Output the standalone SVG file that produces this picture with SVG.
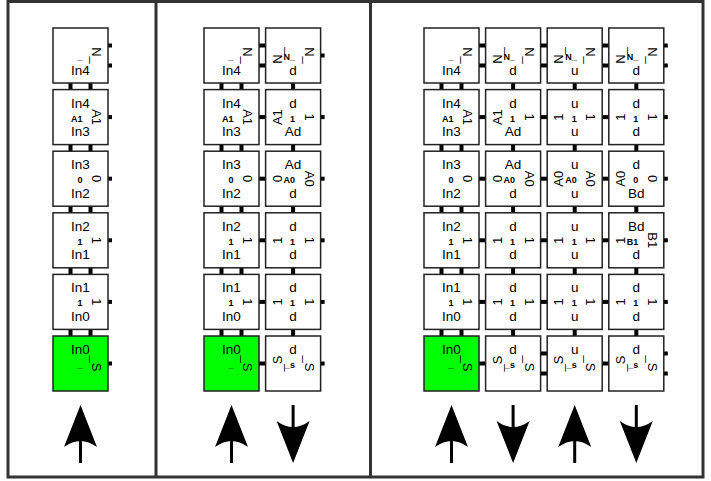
<svg xmlns="http://www.w3.org/2000/svg" xmlns:xlink="http://www.w3.org/1999/xlink" width="711" height="481" viewBox="0 0 711 481">
<style>
.t{fill:#fff;stroke:#222;stroke-width:1.5}
.g{fill:#00ff00;stroke:#222;stroke-width:1.5}
text{font-family:"Liberation Sans",Arial,sans-serif;fill:#000}
.l{font-size:13.5px;text-anchor:middle}
.s{font-size:13px;text-anchor:middle}
.c{font-size:9px;font-weight:bold;text-anchor:end}
.st{fill:#000}
.fr{fill:none;stroke:#333;stroke-width:3}
</style>
<defs>
<g id="arr"><path d="M0 0 L16.5 42 Q0 30 -16.5 42 Z"/><rect x="-1.5" y="34" width="3" height="24"/></g>
</defs>
<g id="frame">
<rect class="fr" x="8" y="1.5" width="695" height="475.5"/>
<line class="fr" x1="156" y1="1.5" x2="156" y2="477"/>
<line class="fr" x1="370.5" y1="1.5" x2="370.5" y2="477"/>
</g>
<g id="connectors" class="st">
<!-- left panel -->
<rect x="68.5" y="82" width="4" height="8.6"/><rect x="88.5" y="82" width="4" height="8.6"/>
<rect x="68.5" y="143.6" width="4" height="8.6"/><rect x="88.5" y="143.6" width="4" height="8.6"/>
<rect x="68.5" y="205.2" width="4" height="8.6"/><rect x="88.5" y="205.2" width="4" height="8.6"/>
<rect x="68.5" y="266.8" width="4" height="8.6"/><rect x="88.5" y="266.8" width="4" height="8.6"/>
<rect x="68.5" y="328.4" width="4" height="8.6"/><rect x="88.5" y="328.4" width="4" height="8.6"/>
<rect x="107.5" y="43.5" width="4.5" height="4"/><rect x="107.5" y="63.5" width="4.5" height="4"/>
<rect x="107.5" y="115.1" width="4.5" height="4"/><rect x="107.5" y="176.7" width="4.5" height="4"/>
<rect x="107.5" y="238.3" width="4.5" height="4"/><rect x="107.5" y="299.9" width="4.5" height="4"/>
<rect x="107.5" y="361.5" width="4.5" height="4"/>
<!-- middle panel -->
<rect x="219.5" y="82" width="4" height="8.6"/><rect x="239.5" y="82" width="4" height="8.6"/>
<rect x="219.5" y="143.6" width="4" height="8.6"/><rect x="239.5" y="143.6" width="4" height="8.6"/>
<rect x="219.5" y="205.2" width="4" height="8.6"/><rect x="239.5" y="205.2" width="4" height="8.6"/>
<rect x="219.5" y="266.8" width="4" height="8.6"/><rect x="239.5" y="266.8" width="4" height="8.6"/>
<rect x="219.5" y="328.4" width="4" height="8.6"/><rect x="239.5" y="328.4" width="4" height="8.6"/>
<rect x="258" y="43.5" width="8.6" height="4"/><rect x="258" y="63.5" width="8.6" height="4"/>
<rect x="258" y="115.1" width="8.6" height="4"/><rect x="258" y="176.7" width="8.6" height="4"/>
<rect x="258" y="238.3" width="8.6" height="4"/><rect x="258" y="299.9" width="8.6" height="4"/>
<rect x="258" y="361.5" width="8.6" height="4"/>
<rect x="291.1" y="82" width="4" height="8.6"/><rect x="291.1" y="143.6" width="4" height="8.6"/>
<rect x="291.1" y="205.2" width="4" height="8.6"/><rect x="291.1" y="266.8" width="4" height="8.6"/>
<rect x="291.1" y="328.4" width="4" height="8.6"/>
<rect x="320.1" y="53.5" width="4.5" height="4"/><rect x="320.1" y="115.1" width="4.5" height="4"/>
<rect x="320.1" y="176.7" width="4.5" height="4"/><rect x="320.1" y="238.3" width="4.5" height="4"/>
<rect x="320.1" y="299.9" width="4.5" height="4"/><rect x="320.1" y="361.5" width="4.5" height="4"/>
<!-- right panel: column A -->
<rect x="439.5" y="82" width="4" height="8.6"/><rect x="459.5" y="82" width="4" height="8.6"/>
<rect x="439.5" y="143.6" width="4" height="8.6"/><rect x="459.5" y="143.6" width="4" height="8.6"/>
<rect x="439.5" y="205.2" width="4" height="8.6"/><rect x="459.5" y="205.2" width="4" height="8.6"/>
<rect x="439.5" y="266.8" width="4" height="8.6"/><rect x="459.5" y="266.8" width="4" height="8.6"/>
<rect x="439.5" y="328.4" width="4" height="8.6"/><rect x="459.5" y="328.4" width="4" height="8.6"/>
<!-- A-B -->
<rect x="478" y="43.5" width="8.6" height="4"/><rect x="478" y="63.5" width="8.6" height="4"/>
<rect x="478" y="115.1" width="8.6" height="4"/><rect x="478" y="176.7" width="8.6" height="4"/>
<rect x="478" y="238.3" width="8.6" height="4"/><rect x="478" y="299.9" width="8.6" height="4"/>
<rect x="478" y="361.5" width="8.6" height="4"/>
<!-- B,C,D verticals -->
<rect x="511.1" y="82" width="4" height="8.6"/><rect x="511.1" y="143.6" width="4" height="8.6"/>
<rect x="511.1" y="205.2" width="4" height="8.6"/><rect x="511.1" y="266.8" width="4" height="8.6"/>
<rect x="511.1" y="328.4" width="4" height="8.6"/>
<rect x="572.7" y="82" width="4" height="8.6"/><rect x="572.7" y="143.6" width="4" height="8.6"/>
<rect x="572.7" y="205.2" width="4" height="8.6"/><rect x="572.7" y="266.8" width="4" height="8.6"/>
<rect x="572.7" y="328.4" width="4" height="8.6"/>
<rect x="634.3" y="82" width="4" height="8.6"/><rect x="634.3" y="143.6" width="4" height="8.6"/>
<rect x="634.3" y="205.2" width="4" height="8.6"/><rect x="634.3" y="266.8" width="4" height="8.6"/>
<rect x="634.3" y="328.4" width="4" height="8.6"/>
<!-- B-C -->
<rect x="539.6" y="43.5" width="8.6" height="4"/><rect x="539.6" y="63.5" width="8.6" height="4"/>
<rect x="539.6" y="115.1" width="8.6" height="4"/><rect x="539.6" y="176.7" width="8.6" height="4"/>
<rect x="539.6" y="238.3" width="8.6" height="4"/><rect x="539.6" y="299.9" width="8.6" height="4"/>
<rect x="539.6" y="351.5" width="8.6" height="4"/><rect x="539.6" y="371.5" width="8.6" height="4"/>
<!-- C-D -->
<rect x="601.2" y="43.5" width="8.6" height="4"/><rect x="601.2" y="63.5" width="8.6" height="4"/>
<rect x="601.2" y="115.1" width="8.6" height="4"/><rect x="601.2" y="176.7" width="8.6" height="4"/>
<rect x="601.2" y="238.3" width="8.6" height="4"/><rect x="601.2" y="299.9" width="8.6" height="4"/>
<rect x="601.2" y="361.5" width="8.6" height="4"/>
<!-- D right -->
<rect x="663.3" y="43.5" width="4.5" height="4"/><rect x="663.3" y="63.5" width="4.5" height="4"/>
<rect x="663.3" y="115.1" width="4.5" height="4"/><rect x="663.3" y="176.7" width="4.5" height="4"/>
<rect x="663.3" y="238.3" width="4.5" height="4"/><rect x="663.3" y="299.9" width="4.5" height="4"/>
<rect x="663.3" y="351.5" width="4.5" height="4"/><rect x="663.3" y="371.5" width="4.5" height="4"/>
</g>

<!-- ===== Left panel ===== -->
<g id="L-r0" transform="translate(53,28)"><rect class="t" width="55" height="55"/><text class="l" x="27.5" y="46.5">In4</text><text class="s" transform="translate(39 27.5) rotate(90)">N_</text><text class="c" x="29.5" y="32">_</text></g>
<g id="L-r1" transform="translate(53,89.6)"><rect class="t" width="55" height="55"/><text class="l" x="27.5" y="18">In4</text><text class="l" x="27.5" y="46.5">In3</text><text class="s" transform="translate(39 27.5) rotate(90)">A1</text><text class="c" x="29.5" y="32">A1</text></g>
<g id="L-r2" transform="translate(53,151.2)"><rect class="t" width="55" height="55"/><text class="l" x="27.5" y="18">In3</text><text class="l" x="27.5" y="46.5">In2</text><text class="s" transform="translate(39 27.5) rotate(90)">0</text><text class="c" x="29.5" y="32">0</text></g>
<g id="L-r3" transform="translate(53,212.8)"><rect class="t" width="55" height="55"/><text class="l" x="27.5" y="18">In2</text><text class="l" x="27.5" y="46.5">In1</text><text class="s" transform="translate(39 27.5) rotate(90)">1</text><text class="c" x="29.5" y="32">1</text></g>
<g id="L-r4" transform="translate(53,274.4)"><rect class="t" width="55" height="55"/><text class="l" x="27.5" y="18">In1</text><text class="l" x="27.5" y="46.5">In0</text><text class="s" transform="translate(39 27.5) rotate(90)">1</text><text class="c" x="29.5" y="32">1</text></g>
<g id="L-r5" transform="translate(53,336)"><rect class="g" width="55" height="55"/><text class="l" x="27.5" y="18">In0</text><text class="s" transform="translate(39 27.5) rotate(90)">_S</text><text class="c" x="29.5" y="32">_</text></g>

<!-- ===== Middle panel, column A ===== -->
<g id="M-A-r0" transform="translate(204,28)"><rect class="t" width="55" height="55"/><text class="l" x="27.5" y="46.5">In4</text><text class="s" transform="translate(39 27.5) rotate(90)">N_</text><text class="c" x="29.5" y="32">_</text></g>
<g id="M-A-r1" transform="translate(204,89.6)"><rect class="t" width="55" height="55"/><text class="l" x="27.5" y="18">In4</text><text class="l" x="27.5" y="46.5">In3</text><text class="s" transform="translate(39 27.5) rotate(90)">A1</text><text class="c" x="29.5" y="32">A1</text></g>
<g id="M-A-r2" transform="translate(204,151.2)"><rect class="t" width="55" height="55"/><text class="l" x="27.5" y="18">In3</text><text class="l" x="27.5" y="46.5">In2</text><text class="s" transform="translate(39 27.5) rotate(90)">0</text><text class="c" x="29.5" y="32">0</text></g>
<g id="M-A-r3" transform="translate(204,212.8)"><rect class="t" width="55" height="55"/><text class="l" x="27.5" y="18">In2</text><text class="l" x="27.5" y="46.5">In1</text><text class="s" transform="translate(39 27.5) rotate(90)">1</text><text class="c" x="29.5" y="32">1</text></g>
<g id="M-A-r4" transform="translate(204,274.4)"><rect class="t" width="55" height="55"/><text class="l" x="27.5" y="18">In1</text><text class="l" x="27.5" y="46.5">In0</text><text class="s" transform="translate(39 27.5) rotate(90)">1</text><text class="c" x="29.5" y="32">1</text></g>
<g id="M-A-r5" transform="translate(204,336)"><rect class="g" width="55" height="55"/><text class="l" x="27.5" y="18">In0</text><text class="s" transform="translate(39 27.5) rotate(90)">_S</text><text class="c" x="29.5" y="32">_</text></g>

<!-- ===== Middle panel, column B ===== -->
<g id="M-B-r0" transform="translate(265.6,28)"><rect class="t" width="55" height="55"/><text class="l" x="27.5" y="46.5">d</text><text class="s" transform="translate(16 27.5) rotate(-90)">N_</text><text class="s" transform="translate(39 27.5) rotate(90)">N_</text><text class="c" x="29.5" y="32">N_</text></g>
<g id="M-B-r1" transform="translate(265.6,89.6)"><rect class="t" width="55" height="55"/><text class="l" x="27.5" y="18">d</text><text class="l" x="27.5" y="46.5">Ad</text><text class="s" transform="translate(16 27.5) rotate(-90)">A1</text><text class="s" transform="translate(39 27.5) rotate(90)">1</text><text class="c" x="29.5" y="32">1</text></g>
<g id="M-B-r2" transform="translate(265.6,151.2)"><rect class="t" width="55" height="55"/><text class="l" x="27.5" y="18">Ad</text><text class="l" x="27.5" y="46.5">d</text><text class="s" transform="translate(16 27.5) rotate(-90)">0</text><text class="s" transform="translate(39 27.5) rotate(90)">A0</text><text class="c" x="29.5" y="32">A0</text></g>
<g id="M-B-r3" transform="translate(265.6,212.8)"><rect class="t" width="55" height="55"/><text class="l" x="27.5" y="18">d</text><text class="l" x="27.5" y="46.5">d</text><text class="s" transform="translate(16 27.5) rotate(-90)">1</text><text class="s" transform="translate(39 27.5) rotate(90)">1</text><text class="c" x="29.5" y="32">1</text></g>
<g id="M-B-r4" transform="translate(265.6,274.4)"><rect class="t" width="55" height="55"/><text class="l" x="27.5" y="18">d</text><text class="l" x="27.5" y="46.5">d</text><text class="s" transform="translate(16 27.5) rotate(-90)">1</text><text class="s" transform="translate(39 27.5) rotate(90)">1</text><text class="c" x="29.5" y="32">1</text></g>
<g id="M-B-r5" transform="translate(265.6,336)"><rect class="t" width="55" height="55"/><text class="l" x="27.5" y="18">d</text><text class="s" transform="translate(16 27.5) rotate(-90)">_S</text><text class="s" transform="translate(39 27.5) rotate(90)">_S</text><text class="c" x="29.5" y="32">_s</text></g>

<!-- ===== Right panel, column A ===== -->
<g id="R-A-r0" transform="translate(424,28)"><rect class="t" width="55" height="55"/><text class="l" x="27.5" y="46.5">In4</text><text class="s" transform="translate(39 27.5) rotate(90)">N_</text><text class="c" x="29.5" y="32">_</text></g>
<g id="R-A-r1" transform="translate(424,89.6)"><rect class="t" width="55" height="55"/><text class="l" x="27.5" y="18">In4</text><text class="l" x="27.5" y="46.5">In3</text><text class="s" transform="translate(39 27.5) rotate(90)">A1</text><text class="c" x="29.5" y="32">A1</text></g>
<g id="R-A-r2" transform="translate(424,151.2)"><rect class="t" width="55" height="55"/><text class="l" x="27.5" y="18">In3</text><text class="l" x="27.5" y="46.5">In2</text><text class="s" transform="translate(39 27.5) rotate(90)">0</text><text class="c" x="29.5" y="32">0</text></g>
<g id="R-A-r3" transform="translate(424,212.8)"><rect class="t" width="55" height="55"/><text class="l" x="27.5" y="18">In2</text><text class="l" x="27.5" y="46.5">In1</text><text class="s" transform="translate(39 27.5) rotate(90)">1</text><text class="c" x="29.5" y="32">1</text></g>
<g id="R-A-r4" transform="translate(424,274.4)"><rect class="t" width="55" height="55"/><text class="l" x="27.5" y="18">In1</text><text class="l" x="27.5" y="46.5">In0</text><text class="s" transform="translate(39 27.5) rotate(90)">1</text><text class="c" x="29.5" y="32">1</text></g>
<g id="R-A-r5" transform="translate(424,336)"><rect class="g" width="55" height="55"/><text class="l" x="27.5" y="18">In0</text><text class="s" transform="translate(39 27.5) rotate(90)">_S</text><text class="c" x="29.5" y="32">_</text></g>

<!-- ===== Right panel, column B ===== -->
<g id="R-B-r0" transform="translate(485.6,28)"><rect class="t" width="55" height="55"/><text class="l" x="27.5" y="46.5">d</text><text class="s" transform="translate(16 27.5) rotate(-90)">N_</text><text class="s" transform="translate(39 27.5) rotate(90)">N_</text><text class="c" x="29.5" y="32">N_</text></g>
<g id="R-B-r1" transform="translate(485.6,89.6)"><rect class="t" width="55" height="55"/><text class="l" x="27.5" y="18">d</text><text class="l" x="27.5" y="46.5">Ad</text><text class="s" transform="translate(16 27.5) rotate(-90)">A1</text><text class="s" transform="translate(39 27.5) rotate(90)">1</text><text class="c" x="29.5" y="32">1</text></g>
<g id="R-B-r2" transform="translate(485.6,151.2)"><rect class="t" width="55" height="55"/><text class="l" x="27.5" y="18">Ad</text><text class="l" x="27.5" y="46.5">d</text><text class="s" transform="translate(16 27.5) rotate(-90)">0</text><text class="s" transform="translate(39 27.5) rotate(90)">A0</text><text class="c" x="29.5" y="32">A0</text></g>
<g id="R-B-r3" transform="translate(485.6,212.8)"><rect class="t" width="55" height="55"/><text class="l" x="27.5" y="18">d</text><text class="l" x="27.5" y="46.5">d</text><text class="s" transform="translate(16 27.5) rotate(-90)">1</text><text class="s" transform="translate(39 27.5) rotate(90)">1</text><text class="c" x="29.5" y="32">1</text></g>
<g id="R-B-r4" transform="translate(485.6,274.4)"><rect class="t" width="55" height="55"/><text class="l" x="27.5" y="18">d</text><text class="l" x="27.5" y="46.5">d</text><text class="s" transform="translate(16 27.5) rotate(-90)">1</text><text class="s" transform="translate(39 27.5) rotate(90)">1</text><text class="c" x="29.5" y="32">1</text></g>
<g id="R-B-r5" transform="translate(485.6,336)"><rect class="t" width="55" height="55"/><text class="l" x="27.5" y="18">d</text><text class="s" transform="translate(16 27.5) rotate(-90)">_S</text><text class="s" transform="translate(39 27.5) rotate(90)">_S</text><text class="c" x="29.5" y="32">_s</text></g>

<!-- ===== Right panel, column C ===== -->
<g id="R-C-r0" transform="translate(547.2,28)"><rect class="t" width="55" height="55"/><text class="l" x="27.5" y="46.5">u</text><text class="s" transform="translate(16 27.5) rotate(-90)">N_</text><text class="s" transform="translate(39 27.5) rotate(90)">N_</text><text class="c" x="29.5" y="32">N_</text></g>
<g id="R-C-r1" transform="translate(547.2,89.6)"><rect class="t" width="55" height="55"/><text class="l" x="27.5" y="18">u</text><text class="l" x="27.5" y="46.5">u</text><text class="s" transform="translate(16 27.5) rotate(-90)">1</text><text class="s" transform="translate(39 27.5) rotate(90)">1</text><text class="c" x="29.5" y="32">1</text></g>
<g id="R-C-r2" transform="translate(547.2,151.2)"><rect class="t" width="55" height="55"/><text class="l" x="27.5" y="18">u</text><text class="l" x="27.5" y="46.5">u</text><text class="s" transform="translate(16 27.5) rotate(-90)">A0</text><text class="s" transform="translate(39 27.5) rotate(90)">A0</text><text class="c" x="29.5" y="32">A0</text></g>
<g id="R-C-r3" transform="translate(547.2,212.8)"><rect class="t" width="55" height="55"/><text class="l" x="27.5" y="18">u</text><text class="l" x="27.5" y="46.5">u</text><text class="s" transform="translate(16 27.5) rotate(-90)">1</text><text class="s" transform="translate(39 27.5) rotate(90)">1</text><text class="c" x="29.5" y="32">1</text></g>
<g id="R-C-r4" transform="translate(547.2,274.4)"><rect class="t" width="55" height="55"/><text class="l" x="27.5" y="18">u</text><text class="l" x="27.5" y="46.5">u</text><text class="s" transform="translate(16 27.5) rotate(-90)">1</text><text class="s" transform="translate(39 27.5) rotate(90)">1</text><text class="c" x="29.5" y="32">1</text></g>
<g id="R-C-r5" transform="translate(547.2,336)"><rect class="t" width="55" height="55"/><text class="l" x="27.5" y="18">u</text><text class="s" transform="translate(16 27.5) rotate(-90)">_S</text><text class="s" transform="translate(39 27.5) rotate(90)">_S</text><text class="c" x="29.5" y="32">_s</text></g>

<!-- ===== Right panel, column D ===== -->
<g id="R-D-r0" transform="translate(608.8,28)"><rect class="t" width="55" height="55"/><text class="l" x="27.5" y="46.5">d</text><text class="s" transform="translate(16 27.5) rotate(-90)">N_</text><text class="s" transform="translate(39 27.5) rotate(90)">N_</text><text class="c" x="29.5" y="32">N_</text></g>
<g id="R-D-r1" transform="translate(608.8,89.6)"><rect class="t" width="55" height="55"/><text class="l" x="27.5" y="18">d</text><text class="l" x="27.5" y="46.5">d</text><text class="s" transform="translate(16 27.5) rotate(-90)">1</text><text class="s" transform="translate(39 27.5) rotate(90)">1</text><text class="c" x="29.5" y="32">1</text></g>
<g id="R-D-r2" transform="translate(608.8,151.2)"><rect class="t" width="55" height="55"/><text class="l" x="27.5" y="18">d</text><text class="l" x="27.5" y="46.5">Bd</text><text class="s" transform="translate(16 27.5) rotate(-90)">A0</text><text class="s" transform="translate(39 27.5) rotate(90)">0</text><text class="c" x="29.5" y="32">0</text></g>
<g id="R-D-r3" transform="translate(608.8,212.8)"><rect class="t" width="55" height="55"/><text class="l" x="27.5" y="18">Bd</text><text class="l" x="27.5" y="46.5">d</text><text class="s" transform="translate(16 27.5) rotate(-90)">1</text><text class="s" transform="translate(39 27.5) rotate(90)">B1</text><text class="c" x="29.5" y="32">B1</text></g>
<g id="R-D-r4" transform="translate(608.8,274.4)"><rect class="t" width="55" height="55"/><text class="l" x="27.5" y="18">d</text><text class="l" x="27.5" y="46.5">d</text><text class="s" transform="translate(16 27.5) rotate(-90)">1</text><text class="s" transform="translate(39 27.5) rotate(90)">1</text><text class="c" x="29.5" y="32">1</text></g>
<g id="R-D-r5" transform="translate(608.8,336)"><rect class="t" width="55" height="55"/><text class="l" x="27.5" y="18">d</text><text class="s" transform="translate(16 27.5) rotate(-90)">_S</text><text class="s" transform="translate(39 27.5) rotate(90)">_S</text><text class="c" x="29.5" y="32">_s</text></g>

<g id="arrows">
<use xlink:href="#arr" transform="translate(80.5,405)"/>
<use xlink:href="#arr" transform="translate(231.5,405)"/>
<use xlink:href="#arr" transform="translate(293.1,463) scale(1,-1)"/>
<use xlink:href="#arr" transform="translate(451.5,405)"/>
<use xlink:href="#arr" transform="translate(513.1,463) scale(1,-1)"/>
<use xlink:href="#arr" transform="translate(574.7,405)"/>
<use xlink:href="#arr" transform="translate(636.3,463) scale(1,-1)"/>
</g>
</svg>
